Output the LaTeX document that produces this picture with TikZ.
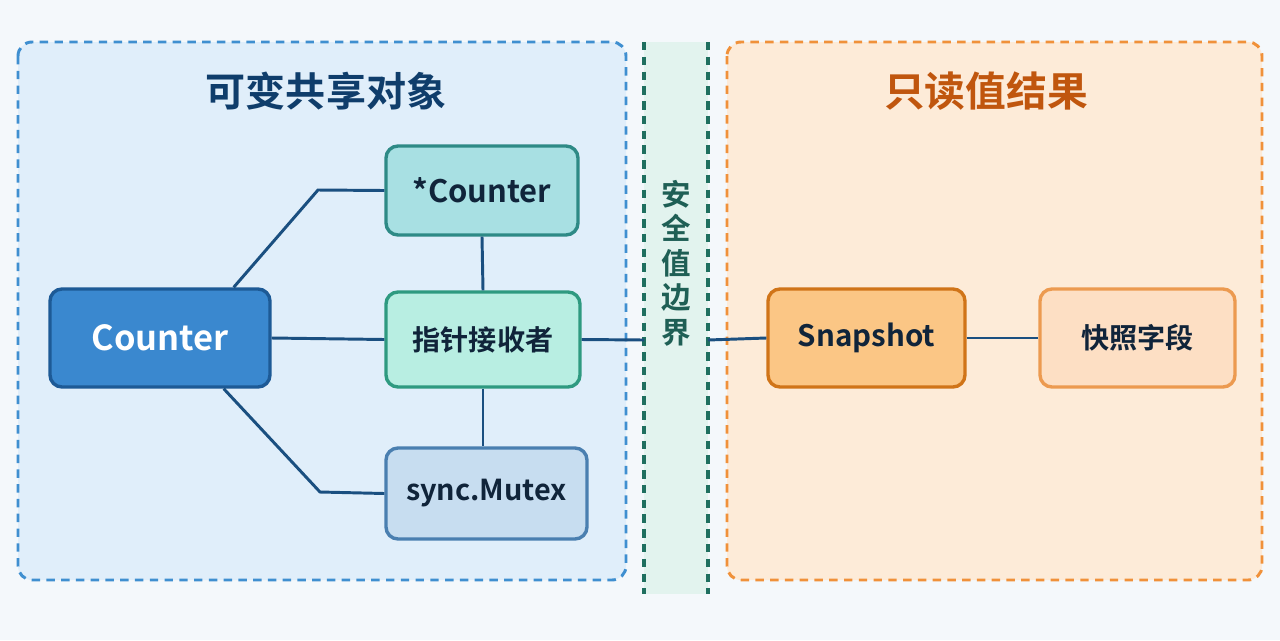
\documentclass[tikz,border=0pt]{standalone}
\usepackage{fontspec}
\setmainfont{Noto Sans CJK SC}[BoldFont={* Bold}]
\usetikzlibrary{calc}
\definecolor{bgc}{HTML}{F4F8FB}
\definecolor{lpfill}{HTML}{E0EEFA}
\definecolor{lpline}{HTML}{3F8FD0}
\definecolor{mbfill}{HTML}{E2F3EE}
\definecolor{mbline}{HTML}{1F6F5F}
\definecolor{rpfill}{HTML}{FDEBD8}
\definecolor{rpline}{HTML}{F0913A}
\definecolor{ltitle}{HTML}{0F3D6B}
\definecolor{rtitle}{HTML}{C0560E}
\definecolor{mtext}{HTML}{1F5F55}
\definecolor{txt}{HTML}{10243A}
\definecolor{conn}{HTML}{1A4F80}
\definecolor{cfill}{HTML}{3A88CF}\definecolor{cline}{HTML}{1D5A96}
\definecolor{pfill}{HTML}{A8E0E3}\definecolor{pline}{HTML}{2E8A86}
\definecolor{rfill}{HTML}{B8EEE2}\definecolor{rline}{HTML}{2E9A80}
\definecolor{mfill}{HTML}{C7DDF0}\definecolor{mline}{HTML}{4A7FB0}
\definecolor{sfill}{HTML}{FBC685}\definecolor{sline}{HTML}{D07418}
\definecolor{ffill}{HTML}{FDDFC4}\definecolor{fline}{HTML}{EC9A50}
\tikzset{
  box/.style={draw, line width=2.4pt, rounded corners=0.3cm, inner sep=0pt, text=txt},
  panel/.style={line width=2.1pt, dash pattern=on 6pt off 4.5pt, rounded corners=0.35cm},
  link/.style={draw=conn, line width=2.1pt},
  sep/.style={mbline, line width=2.4pt, dash pattern=on 6pt off 4.5pt},
}
\begin{document}
\begin{tikzpicture}[x=0.025cm, y=-0.025cm]
\fill[bgc] (0,0) rectangle (1280,640);
\useasboundingbox (0,0) rectangle (1280,640);
% panels
\draw[panel, draw=lpline, fill=lpfill] (18,42) rectangle (626,580);
\draw[panel, draw=rpline, fill=rpfill] (727,42) rectangle (1262,580);
\fill[mbfill] (644,42) rectangle (708,594);
\draw[sep] (644,42) -- (644,594);
\draw[sep] (708,42) -- (708,594);
% titles
\node[font=\bfseries\fontsize{28.5}{32}\selectfont, text=ltitle] (lt) at (326,91) {可变共享对象};
\node[font=\bfseries\fontsize{29}{32}\selectfont, text=rtitle] (rt) at (986,91) {只读值结果};
\node[font=\bfseries\fontsize{21}{24.5}\selectfont, text=mtext, align=center] (mid) at (676,263) {安\\全\\值\\边\\界};
% nodes
\node[box, fill=cfill, draw=cline, text=white, minimum width=220*0.025cm, minimum height=98*0.025cm, font=\bfseries\fontsize{24.5}{28}\selectfont] (counter) at (160,338) {\raisebox{-1.5pt}{Counter}};
\node[box, fill=pfill, draw=pline, minimum width=192*0.025cm, minimum height=89*0.025cm, font=\bfseries\fontsize{22}{26}\selectfont] (ptr) at (482,190.5) {\raisebox{-1pt}{*Counter}};
\node[box, fill=rfill, draw=rline, minimum width=194*0.025cm, minimum height=95*0.025cm, font=\bfseries\fontsize{20}{24}\selectfont] (recv) at (483,339.5) {指针接收者};
\node[box, fill=mfill, draw=mline, minimum width=201*0.025cm, minimum height=91*0.025cm, font=\bfseries\fontsize{20.5}{24}\selectfont] (mutex) at (486.5,493.5) {\raisebox{-1pt}{sync.Mutex}};
\node[box, fill=sfill, draw=sline, minimum width=197*0.025cm, minimum height=98*0.025cm, font=\bfseries\fontsize{21}{25}\selectfont] (snap) at (866.5,338) {\raisebox{-1.5pt}{Snapshot}};
\node[box, fill=ffill, draw=fline, minimum width=195*0.025cm, minimum height=98*0.025cm, font=\bfseries\fontsize{20}{24}\selectfont] (field) at (1137.5,338) {快照字段};
% connectors
\coordinate (bl) at (644,340);
\coordinate (br) at (708,340);
\coordinate (k1) at (318,190);
\coordinate (k2) at (320,492);
\draw[link] ($(counter.north east)+(-38,0)$) -- (k1) -- (ptr.west);
\draw[link] (counter.east) -- (recv.west);
\draw[link] ($(counter.south east)+(-48,0)$) -- (k2) -- (mutex.west);
\draw[link] (ptr.south) -- (recv.north);
\draw[link] (recv.south) -- (recv.south |- mutex.north);
\draw[link] (recv.east) -- (bl);
\draw[link] (br) -- (snap.west);
\draw[link] (snap.east) -- (field.west);
\end{tikzpicture}
\end{document}
